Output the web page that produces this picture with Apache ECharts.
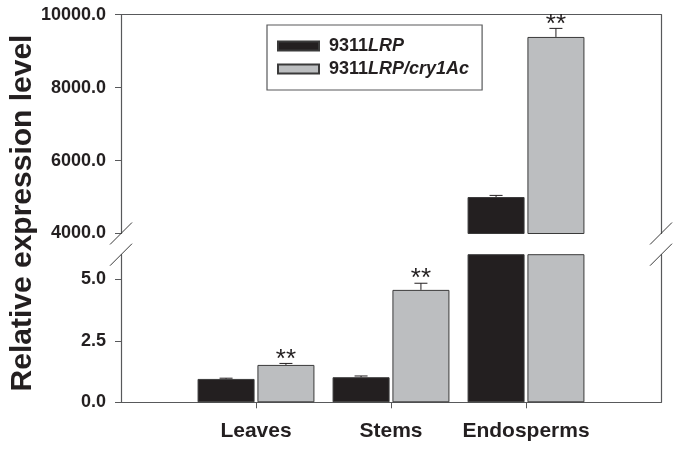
<!DOCTYPE html>
<html><head><meta charset="utf-8">
<script src="https://cdn.jsdelivr.net/npm/echarts@6/dist/echarts.min.js"></script>
<style>html,body{margin:0;padding:0;background:#fff}#c{width:681px;height:451px}</style>
</head><body><div id="c"></div>
<script>
// ---- data ----
const categories = ['Leaves', 'Stems', 'Endosperms'];
const seriesNames = ['9311LRP', '9311LRP/cry1Ac'];
const lrpValues = [0.95, 1.02, 5000];
const lrpErrors = [0.03, 0.05, 45];
const cryValues = [1.52, 4.57, 9390];
const cryErrors = [0.06, 0.27, 235];
const significance = ['**', '**', '**'];
const upperTicks = [4000, 6000, 8000, 10000];
const lowerTicks = [0, 2.5, 5];
const upperRange = [4000, 10000];
const lowerRange = [0, 6];
const yTitle = 'Relative expression level';

// ---- style ----
const FONT = '"Liberation Sans", Arial, sans-serif';
const TXT = '#231f20';
const AXIS = '#58595b';
const BAR_W = 57;
const BAR_GAP = 0.05;
const CAP = 13;
const colors = ['#231f20', '#bcbec0'];

const axisCats = [''].concat(categories, ['']);
const pad = arr => [null].concat(arr, [null]);
const valueSets = [lrpValues, cryValues];
const errorSets = [lrpErrors, cryErrors];

function errItems(inRange) {
  const out = [];
  valueSets.forEach((vals, s) => {
    vals.forEach((v, i) => { if (inRange(v)) out.push([i + 1, v, errorSets[s][i], s]); });
  });
  return out;
}

function errRender(params, api) {
  const idx = api.value(0), v = api.value(1), e = api.value(2), s = api.value(3);
  const off = (s === 0 ? -1 : 1) * (BAR_W + BAR_W * BAR_GAP) / 2;
  const p0 = api.coord([idx, v]);
  const p1 = api.coord([idx, v + e]);
  const x = p0[0] + off;
  const st = { stroke: TXT, lineWidth: 1 };
  const children = [
    { type: 'line', shape: { x1: x, y1: p0[1], x2: x, y2: p1[1] }, style: st },
    { type: 'line', shape: { x1: x - CAP / 2, y1: p1[1], x2: x + CAP / 2, y2: p1[1] }, style: st }
  ];
  if (s === 1 && significance[idx - 1]) {
    children.push({ type: 'text', style: { text: significance[idx - 1], x: x, y: p1[1] + 9,
      align: 'center', verticalAlign: 'bottom', font: '26px ' + FONT, fill: TXT } });
  }
  return { type: 'group', children: children };
}

function breakRender(params, api) {
  const p = api.coord([api.value(0), api.value(1)]);
  return { type: 'line', shape: { x1: p[0] - 11, y1: p[1] + 11, x2: p[0] + 11, y2: p[1] - 11 },
    style: { stroke: '#3a3a3a', lineWidth: 1 } };
}

const lineOnly = {
  axisLine: { show: true, onZero: false, lineStyle: { color: AXIS, width: 1.2 } },
  axisTick: { show: false }, axisLabel: { show: false }, splitLine: { show: false }
};

const option = {
  animation: false,
  backgroundColor: '#fff',
  textStyle: { fontFamily: FONT },
  legend: {
    data: seriesNames,
    orient: 'vertical',
    left: 267, top: 25,
    padding: [12, 13, 12, 10],
    itemGap: 5,
    icon: 'rect',
    itemWidth: 41, itemHeight: 9,
    borderColor: AXIS, borderWidth: 1.2,
    textStyle: { fontSize: 18, fontWeight: 'bold', color: TXT, padding: [0, 0, 0, 5],
      rich: {
        n: { fontSize: 18, fontWeight: 'bold', color: TXT, fontFamily: FONT },
        i: { fontSize: 18, fontWeight: 'bold', fontStyle: 'italic', color: TXT, fontFamily: FONT }
      } },
    formatter: name => '{n|' + name.slice(0, 4) + '}{i|' + name.slice(4) + '}'
  },
  grid: [
    { left: 121, right: 20, top: 14.7, height: 218.8 },
    { left: 121, right: 20, top: 254.7, height: 147.6 },
    { left: 121, right: 20, top: 33, height: 360 }
  ],
  xAxis: [
    Object.assign({ type: 'category', gridIndex: 0, data: axisCats, boundaryGap: false, position: 'top' }, lineOnly),
    { type: 'category', gridIndex: 1, data: axisCats, boundaryGap: false, position: 'bottom',
      axisLine: { show: true, onZero: false, lineStyle: { color: AXIS, width: 1.2 } },
      axisTick: { show: true, inside: false, length: 6, lineStyle: { color: AXIS },
        interval: (i, v) => v !== '' },
      axisLabel: { interval: 0, margin: 18, fontSize: 21, fontWeight: 'bold', color: TXT, fontFamily: FONT },
      splitLine: { show: false } },
    { type: 'category', gridIndex: 2, data: axisCats, show: false }
  ],
  yAxis: [
    { type: 'value', gridIndex: 0, min: upperRange[0], max: upperRange[1], interval: 2000, position: 'left',
      axisLine: { show: true, lineStyle: { color: AXIS, width: 1.2 } },
      axisTick: { show: true, inside: false, length: 6, lineStyle: { color: AXIS }, customValues: upperTicks },
      axisLabel: { margin: 15, fontSize: 18, fontWeight: 'bold', color: TXT, fontFamily: FONT,
        customValues: upperTicks, formatter: v => Number(v).toFixed(1) },
      splitLine: { show: false } },
    Object.assign({ type: 'value', gridIndex: 0, min: upperRange[0], max: upperRange[1], position: 'right' }, lineOnly),
    { type: 'value', gridIndex: 1, min: lowerRange[0], max: lowerRange[1], position: 'left',
      axisLine: { show: true, lineStyle: { color: AXIS, width: 1.2 } },
      axisTick: { show: true, inside: false, length: 6, lineStyle: { color: AXIS }, customValues: lowerTicks },
      axisLabel: { margin: 15, fontSize: 18, fontWeight: 'bold', color: TXT, fontFamily: FONT,
        customValues: lowerTicks, formatter: v => Number(v).toFixed(1) },
      splitLine: { show: false } },
    Object.assign({ type: 'value', gridIndex: 1, min: lowerRange[0], max: lowerRange[1], position: 'right' }, lineOnly),
    { type: 'value', gridIndex: 2, min: 0, max: 1, position: 'left',
      name: yTitle, nameLocation: 'middle', nameGap: 86,
      nameTextStyle: { fontSize: 30, fontWeight: 'bold', color: TXT, fontFamily: FONT },
      axisLine: { show: false }, axisTick: { show: false }, axisLabel: { show: false }, splitLine: { show: false } }
  ],
  series: []
};

// bars
[0, 1].forEach(s => {
  const base = { type: 'bar', name: seriesNames[s], barWidth: BAR_W, barGap: (BAR_GAP * 100) + '%', clip: true,
    itemStyle: { color: colors[s], borderColor: '#3a3a3a', borderWidth: 1 } };
  option.series.push(Object.assign({}, base, { xAxisIndex: 0, yAxisIndex: 0,
    data: pad(valueSets[s].map(v => v >= upperRange[0] ? v : null)) }));
  option.series.push(Object.assign({}, base, { xAxisIndex: 1, yAxisIndex: 2,
    data: pad(valueSets[s]) }));
});
// error bars
option.series.push({ type: 'custom', xAxisIndex: 0, yAxisIndex: 0, clip: false, z: 5,
  renderItem: errRender, data: errItems(v => v >= upperRange[0]) });
option.series.push({ type: 'custom', xAxisIndex: 1, yAxisIndex: 2, clip: false, z: 5,
  renderItem: errRender, data: errItems(v => v < lowerRange[1]) });
// axis break marks
const lastIdx = axisCats.length - 1;
option.series.push({ type: 'custom', xAxisIndex: 0, yAxisIndex: 0, clip: false, z: 6,
  renderItem: breakRender, data: [[0, upperRange[0]], [lastIdx, upperRange[0]]] });
option.series.push({ type: 'custom', xAxisIndex: 1, yAxisIndex: 2, clip: false, z: 6,
  renderItem: breakRender, data: [[0, lowerRange[1]], [lastIdx, lowerRange[1]]] });

const chart = echarts.init(document.getElementById('c'), null, { renderer: 'canvas' });
chart.setOption(option);
</script>
</body></html>
